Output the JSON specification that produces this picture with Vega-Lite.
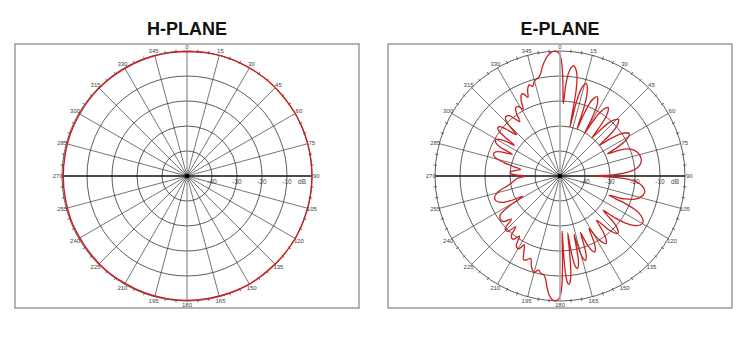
{
  "$schema": "https://vega.github.io/schema/vega-lite/v6.json",
  "background": "white",
  "padding": {"left": 14, "top": 19, "right": 0, "bottom": 0},
  "config": {
    "view": {"stroke": "#9a9a9a", "strokeWidth": 1.5},
    "font": "Liberation Sans",
    "title": {"fontSize": 18, "fontWeight": "bold", "font": "Liberation Sans", "color": "#111111", "offset": 5}
  },
  "datasets": {
    "rings": [{"db": -40}, {"db": -30}, {"db": -20}, {"db": -10}, {"db": 0}],
    "center": [{"db": -50}],
    "spokes": [{"angle": 0}, {"angle": 15}, {"angle": 30}, {"angle": 45}, {"angle": 60}, {"angle": 75}, {"angle": 90}, {"angle": 105}, {"angle": 120}, {"angle": 135}, {"angle": 150}, {"angle": 165}],
    "ticks": [{"angle": 5}, {"angle": 10}, {"angle": 20}, {"angle": 25}, {"angle": 35}, {"angle": 40}, {"angle": 50}, {"angle": 55}, {"angle": 65}, {"angle": 70}, {"angle": 80}, {"angle": 85}, {"angle": 95}, {"angle": 100}, {"angle": 110}, {"angle": 115}, {"angle": 125}, {"angle": 130}, {"angle": 140}, {"angle": 145}, {"angle": 155}, {"angle": 160}, {"angle": 170}, {"angle": 175}, {"angle": 185}, {"angle": 190}, {"angle": 200}, {"angle": 205}, {"angle": 215}, {"angle": 220}, {"angle": 230}, {"angle": 235}, {"angle": 245}, {"angle": 250}, {"angle": 260}, {"angle": 265}, {"angle": 275}, {"angle": 280}, {"angle": 290}, {"angle": 295}, {"angle": 305}, {"angle": 310}, {"angle": 320}, {"angle": 325}, {"angle": 335}, {"angle": 340}, {"angle": 350}, {"angle": 355}],
    "alabels": [{"angle": 0, "label": "0"}, {"angle": 15, "label": "15"}, {"angle": 30, "label": "30"}, {"angle": 45, "label": "45"}, {"angle": 60, "label": "60"}, {"angle": 75, "label": "75"}, {"angle": 90, "label": "90"}, {"angle": 105, "label": "105"}, {"angle": 120, "label": "120"}, {"angle": 135, "label": "135"}, {"angle": 150, "label": "150"}, {"angle": 165, "label": "165"}, {"angle": 180, "label": "180"}, {"angle": 195, "label": "195"}, {"angle": 210, "label": "210"}, {"angle": 225, "label": "225"}, {"angle": 240, "label": "240"}, {"angle": 255, "label": "255"}, {"angle": 270, "label": "270"}, {"angle": 285, "label": "285"}, {"angle": 300, "label": "300"}, {"angle": 315, "label": "315"}, {"angle": 330, "label": "330"}, {"angle": 345, "label": "345"}],
    "rlabels": [{"db": -40, "label": "-40"}, {"db": -30, "label": "-30"}, {"db": -20, "label": "-20"}, {"db": -10, "label": "-10"}, {"db": -4, "label": "dB"}],
    "h": [{"angle":0,"db":-0.2},{"angle":10,"db":-0.1},{"angle":20,"db":0},{"angle":30,"db":-0.1},{"angle":40,"db":0},{"angle":50,"db":-0.1},{"angle":60,"db":0},{"angle":70,"db":0},{"angle":80,"db":0},{"angle":90,"db":0},{"angle":100,"db":0},{"angle":110,"db":-0.1},{"angle":120,"db":0},{"angle":130,"db":-0.1},{"angle":140,"db":-0.2},{"angle":150,"db":-0.1},{"angle":160,"db":-0.2},{"angle":170,"db":-0.3},{"angle":180,"db":-0.2},{"angle":190,"db":-0.3},{"angle":200,"db":-0.3},{"angle":210,"db":-0.4},{"angle":220,"db":-0.3},{"angle":230,"db":-0.4},{"angle":240,"db":-0.5},{"angle":250,"db":-0.4},{"angle":260,"db":-0.5},{"angle":270,"db":-0.5},{"angle":280,"db":-0.5},{"angle":290,"db":-0.4},{"angle":300,"db":-0.4},{"angle":310,"db":-0.3},{"angle":320,"db":-0.3},{"angle":330,"db":-0.3},{"angle":340,"db":-0.2},{"angle":350,"db":-0.2},{"angle":360,"db":-0.2}],
    "e": [{"angle":0,"db":-1.5},{"angle":0.6,"db":-3.5},{"angle":1.2,"db":-7},{"angle":1.8,"db":-13},{"angle":2.6,"db":-21},
      {"angle":3.5,"db":-14.5},{"angle":4.6,"db":-9},{"angle":5.8,"db":-6.5},{"angle":7,"db":-5.5},{"angle":8.2,"db":-6.5},{"angle":9.5,"db":-9},{"angle":10.6,"db":-14.5},{"angle":11.5,"db":-30},
      {"angle":12.4,"db":-20.5},{"angle":13.4,"db":-15},{"angle":14.6,"db":-12.5},{"angle":15.75,"db":-11.5},{"angle":16.9,"db":-12.5},{"angle":18.1,"db":-15},{"angle":19.2,"db":-20.5},{"angle":20,"db":-30},
      {"angle":21,"db":-24},{"angle":22.2,"db":-18.5},{"angle":23.6,"db":-16},{"angle":25,"db":-15},{"angle":26.4,"db":-16},{"angle":27.8,"db":-18.5},{"angle":29,"db":-24},{"angle":30,"db":-30},
      {"angle":31,"db":-25},{"angle":32.2,"db":-20},{"angle":33.6,"db":-17.5},{"angle":35,"db":-16.5},{"angle":36.4,"db":-17.5},{"angle":37.8,"db":-20},{"angle":39,"db":-25},{"angle":40,"db":-30},
      {"angle":41.2,"db":-25.5},{"angle":42.6,"db":-21},{"angle":44.3,"db":-18.5},{"angle":46,"db":-17.5},{"angle":47.7,"db":-18.5},{"angle":49.4,"db":-21},{"angle":50.8,"db":-25.5},{"angle":52,"db":-30},
      {"angle":53.3,"db":-25.5},{"angle":54.9,"db":-21},{"angle":56.7,"db":-18.5},{"angle":58.5,"db":-17.5},{"angle":60.3,"db":-18.5},{"angle":62.1,"db":-21},{"angle":63.7,"db":-25},{"angle":65,"db":-29},
      {"angle":66.5,"db":-24},{"angle":68.5,"db":-20.5},{"angle":71,"db":-18.5},{"angle":74,"db":-17.3},{"angle":77.5,"db":-16.8},{"angle":81,"db":-17.3},{"angle":84,"db":-19},{"angle":86.5,"db":-22.5},{"angle":88.5,"db":-28},{"angle":90,"db":-36},
      {"angle":91.5,"db":-28},{"angle":93,"db":-22},{"angle":95.5,"db":-18},{"angle":98.5,"db":-16},{"angle":101,"db":-15.5},{"angle":104,"db":-16.3},{"angle":107,"db":-18.5},{"angle":109.5,"db":-22.5},{"angle":111.5,"db":-29},
      {"angle":112.8,"db":-22},{"angle":114.4,"db":-16.5},{"angle":116.5,"db":-13.5},{"angle":119,"db":-12},{"angle":121.5,"db":-12.5},{"angle":123.8,"db":-14.5},{"angle":125.8,"db":-18},{"angle":127.3,"db":-22.5},{"angle":128.5,"db":-28},
      {"angle":129.7,"db":-25.5},{"angle":131.1,"db":-21},{"angle":132.8,"db":-18.5},{"angle":134.5,"db":-17.4},{"angle":136.2,"db":-18.5},{"angle":137.9,"db":-21},{"angle":139.3,"db":-25.5},{"angle":140.5,"db":-27},
      {"angle":141.5,"db":-24.5},{"angle":142.8,"db":-20.5},{"angle":144.3,"db":-18.3},{"angle":145.8,"db":-17.3},{"angle":147.2,"db":-18.3},{"angle":148.7,"db":-20.5},{"angle":150,"db":-24},{"angle":151,"db":-26},
      {"angle":151.9,"db":-23.5},{"angle":153,"db":-19.5},{"angle":154.2,"db":-17.5},{"angle":155.5,"db":-16.6},{"angle":156.8,"db":-17.5},{"angle":158,"db":-19.5},{"angle":159.1,"db":-23},{"angle":160,"db":-26},
      {"angle":160.7,"db":-22},{"angle":161.4,"db":-17.5},{"angle":162.3,"db":-15.5},{"angle":163.25,"db":-14.7},{"angle":164.2,"db":-15.5},{"angle":165.1,"db":-17.5},{"angle":165.8,"db":-21.5},{"angle":166.5,"db":-26},
      {"angle":167.1,"db":-20},{"angle":167.8,"db":-15},{"angle":168.6,"db":-13},{"angle":169.4,"db":-12.3},{"angle":170.2,"db":-13},{"angle":171,"db":-15.5},{"angle":171.7,"db":-20.5},{"angle":172.3,"db":-27},
      {"angle":172.9,"db":-18},{"angle":173.6,"db":-11},{"angle":174.4,"db":-7.8},{"angle":175.2,"db":-6.5},{"angle":176,"db":-7.2},{"angle":176.7,"db":-10.5},{"angle":177.3,"db":-18},{"angle":177.8,"db":-28},
      {"angle":178.3,"db":-16},{"angle":178.9,"db":-7},{"angle":179.6,"db":-3},{"angle":180.5,"db":-1},{"angle":181.5,"db":-0.2},{"angle":182.5,"db":0},{"angle":183.8,"db":-0.6},{"angle":185.2,"db":-2.2},{"angle":186.6,"db":-5},{"angle":188,"db":-8.5},
      {"angle":189.5,"db":-10},{"angle":191,"db":-10.2},{"angle":193,"db":-11.5},{"angle":195,"db":-10},{"angle":197.5,"db":-12},{"angle":199.5,"db":-15},{"angle":201.5,"db":-14},{"angle":203.5,"db":-13.5},{"angle":205.5,"db":-16.5},{"angle":207.5,"db":-19},{"angle":209.5,"db":-16.5},{"angle":212,"db":-17},{"angle":214,"db":-21},{"angle":216.5,"db":-18.5},{"angle":219,"db":-19},{"angle":221,"db":-23},{"angle":223.5,"db":-19.5},{"angle":226,"db":-19.5},{"angle":228.5,"db":-24},{"angle":231,"db":-21},{"angle":234,"db":-20.5},{"angle":237,"db":-21.5},{"angle":239.5,"db":-27},{"angle":241.5,"db":-33},{"angle":243.5,"db":-28},{"angle":246,"db":-24},{"angle":249,"db":-22.5},{"angle":252,"db":-22.5},{"angle":255,"db":-24},{"angle":258,"db":-27},{"angle":261,"db":-30},{"angle":264,"db":-31.5},{"angle":267,"db":-33},{"angle":269,"db":-35.5},{"angle":270,"db":-36},{"angle":271.2,"db":-33},{"angle":272.5,"db":-30.5},{"angle":274.5,"db":-30},{"angle":277,"db":-32},{"angle":279.5,"db":-34},{"angle":281.5,"db":-31},{"angle":283.5,"db":-27},{"angle":285.5,"db":-23.5},{"angle":288,"db":-22},{"angle":290.5,"db":-22.5},{"angle":292.5,"db":-25},{"angle":294.5,"db":-29},
      {"angle":296,"db":-23},{"angle":297.5,"db":-21},{"angle":299,"db":-20.5},{"angle":300.5,"db":-21},{"angle":302.5,"db":-24},{"angle":304,"db":-28},{"angle":305.2,"db":-23},{"angle":306.5,"db":-19.5},{"angle":308,"db":-18.5},{"angle":309.5,"db":-19},{"angle":311,"db":-21.5},{"angle":313.5,"db":-26},{"angle":314.7,"db":-21.5},{"angle":316.2,"db":-18.5},{"angle":318,"db":-17.8},{"angle":320,"db":-18.5},{"angle":321.8,"db":-21},{"angle":323.5,"db":-23},{"angle":325.2,"db":-19.5},{"angle":327,"db":-17.5},{"angle":329,"db":-17.5},{"angle":331,"db":-19.5},{"angle":332.8,"db":-16},{"angle":334.5,"db":-14},{"angle":336,"db":-14},{"angle":337.8,"db":-16},{"angle":339.5,"db":-13},{"angle":341.3,"db":-11.5},{"angle":343,"db":-12.5},{"angle":344.8,"db":-10.8},{"angle":346.5,"db":-10},{"angle":348,"db":-9.5},{"angle":349.5,"db":-8},{"angle":351,"db":-5.5},{"angle":352.5,"db":-3.5},{"angle":354,"db":-1.8},{"angle":355.5,"db":-0.7},{"angle":357,"db":-0.1},{"angle":358.3,"db":-0.1},{"angle":359.3,"db":-0.7},{"angle":360,"db":-1.5}]
  },
  "spacing": 27,
  "hconcat": [
    {
      "title": {"text": "H-PLANE"},
      "width": 344,
      "height": 264,
      "layer": [
        {
          "data": {"name": "rings"},
          "transform": [{"calculate": "datum.db + 50", "as": "r"}, {"calculate": "0", "as": "x"}, {"calculate": "0", "as": "y"}],
          "mark": {"type": "point", "shape": "circle", "filled": false, "stroke": "#333333", "strokeWidth": 0.8, "opacity": 1},
          "encoding": {
            "x": {"field": "x", "type": "quantitative", "scale": {"domain": [-68.8, 68.8], "nice": false, "zero": false}, "axis": null},
            "y": {"field": "y", "type": "quantitative", "scale": {"domain": [-52.8, 52.8], "nice": false, "zero": false}, "axis": null},
            "size": {"field": "r", "type": "quantitative", "scale": {"type": "pow", "exponent": 2, "domain": [0, 50], "range": [0, 62500]}, "legend": null}
          }
        },
        {
          "data": {"name": "spokes"},
          "transform": [{"filter": "datum.angle != 0 && datum.angle != 90"}, {"calculate": "50*sin(datum.angle*PI/180)", "as": "x"}, {"calculate": "50*cos(datum.angle*PI/180)", "as": "y"}, {"calculate": "-datum.x", "as": "x2"}, {"calculate": "-datum.y", "as": "y2"}],
          "mark": {"type": "rule", "stroke": "#3a3a3a", "strokeWidth": 0.7},
          "encoding": {"x": {"field": "x", "type": "quantitative"}, "y": {"field": "y", "type": "quantitative"}, "x2": {"field": "x2"}, "y2": {"field": "y2"}}
        },
        {
          "data": {"name": "spokes"},
          "transform": [{"filter": "datum.angle == 0"}, {"calculate": "50*sin(datum.angle*PI/180)", "as": "x"}, {"calculate": "50*cos(datum.angle*PI/180)", "as": "y"}, {"calculate": "-datum.x", "as": "x2"}, {"calculate": "-datum.y", "as": "y2"}],
          "mark": {"type": "rule", "stroke": "#777777", "strokeWidth": 1},
          "encoding": {"x": {"field": "x", "type": "quantitative"}, "y": {"field": "y", "type": "quantitative"}, "x2": {"field": "x2"}, "y2": {"field": "y2"}}
        },
        {
          "data": {"name": "spokes"},
          "transform": [{"filter": "datum.angle == 90"}, {"calculate": "50*sin(datum.angle*PI/180)", "as": "x"}, {"calculate": "50*cos(datum.angle*PI/180)", "as": "y"}, {"calculate": "-datum.x", "as": "x2"}, {"calculate": "-datum.y", "as": "y2"}],
          "mark": {"type": "rule", "stroke": "#111111", "strokeWidth": 1.3},
          "encoding": {"x": {"field": "x", "type": "quantitative"}, "y": {"field": "y", "type": "quantitative"}, "x2": {"field": "x2"}, "y2": {"field": "y2"}}
        },
        {
          "data": {"name": "ticks"},
          "transform": [{"calculate": "49.4*sin(datum.angle*PI/180)", "as": "x"}, {"calculate": "49.4*cos(datum.angle*PI/180)", "as": "y"}, {"calculate": "50.8*sin(datum.angle*PI/180)", "as": "x2"}, {"calculate": "50.8*cos(datum.angle*PI/180)", "as": "y2"}],
          "mark": {"type": "rule", "stroke": "#333333", "strokeWidth": 0.7},
          "encoding": {"x": {"field": "x", "type": "quantitative"}, "y": {"field": "y", "type": "quantitative"}, "x2": {"field": "x2"}, "y2": {"field": "y2"}}
        },
        {
          "data": {"name": "center"},
          "transform": [{"calculate": "0", "as": "x"}, {"calculate": "0", "as": "y"}],
          "mark": {"type": "point", "shape": "circle", "filled": true, "color": "#000000", "size": 22, "opacity": 1},
          "encoding": {"x": {"field": "x", "type": "quantitative"}, "y": {"field": "y", "type": "quantitative"}}
        },
        {
          "data": {"name": "alabels"},
          "transform": [{"calculate": "51.7*sin(datum.angle*PI/180)", "as": "x"}, {"calculate": "51.7*cos(datum.angle*PI/180)", "as": "y"}],
          "mark": {"type": "text", "fontSize": 6, "fill": "#444444", "align": "center", "baseline": "middle", "font": "Liberation Sans"},
          "encoding": {"x": {"field": "x", "type": "quantitative"}, "y": {"field": "y", "type": "quantitative"}, "text": {"field": "label"}}
        },
        {
          "data": {"name": "rlabels"},
          "transform": [{"calculate": "datum.db + 50", "as": "x"}, {"calculate": "0", "as": "y"}],
          "mark": {"type": "text", "fontSize": 6.5, "fill": "#444444", "align": "center", "baseline": "middle", "dy": 5.5, "font": "Liberation Sans"},
          "encoding": {"x": {"field": "x", "type": "quantitative"}, "y": {"field": "y", "type": "quantitative"}, "text": {"field": "label"}}
        },
        {
          "data": {"name": "h"},
          "transform": [{"calculate": "datum.db + 50", "as": "r"}, {"calculate": "datum.r*sin(datum.angle*PI/180)", "as": "x"}, {"calculate": "datum.r*cos(datum.angle*PI/180)", "as": "y"}],
          "mark": {"type": "line", "stroke": "#cc1f1f", "strokeWidth": 1.4, "interpolate": "catmull-rom"},
          "encoding": {"x": {"field": "x", "type": "quantitative"}, "y": {"field": "y", "type": "quantitative"}, "order": {"field": "angle", "type": "quantitative"}}
        }
      ]
    },
    {
      "title": {"text": "E-PLANE"},
      "width": 344,
      "height": 264,
      "layer": [
        {
          "data": {"name": "rings"},
          "transform": [{"calculate": "datum.db + 50", "as": "r"}, {"calculate": "0", "as": "x"}, {"calculate": "0", "as": "y"}],
          "mark": {"type": "point", "shape": "circle", "filled": false, "stroke": "#333333", "strokeWidth": 0.8, "opacity": 1},
          "encoding": {
            "x": {"field": "x", "type": "quantitative", "scale": {"domain": [-68.8, 68.8], "nice": false, "zero": false}, "axis": null},
            "y": {"field": "y", "type": "quantitative", "scale": {"domain": [-52.8, 52.8], "nice": false, "zero": false}, "axis": null},
            "size": {"field": "r", "type": "quantitative", "scale": {"type": "pow", "exponent": 2, "domain": [0, 50], "range": [0, 62500]}, "legend": null}
          }
        },
        {
          "data": {"name": "spokes"},
          "transform": [{"filter": "datum.angle != 0 && datum.angle != 90"}, {"calculate": "50*sin(datum.angle*PI/180)", "as": "x"}, {"calculate": "50*cos(datum.angle*PI/180)", "as": "y"}, {"calculate": "-datum.x", "as": "x2"}, {"calculate": "-datum.y", "as": "y2"}],
          "mark": {"type": "rule", "stroke": "#3a3a3a", "strokeWidth": 0.7},
          "encoding": {"x": {"field": "x", "type": "quantitative"}, "y": {"field": "y", "type": "quantitative"}, "x2": {"field": "x2"}, "y2": {"field": "y2"}}
        },
        {
          "data": {"name": "spokes"},
          "transform": [{"filter": "datum.angle == 90"}, {"calculate": "50*sin(datum.angle*PI/180)", "as": "x"}, {"calculate": "50*cos(datum.angle*PI/180)", "as": "y"}, {"calculate": "-datum.x", "as": "x2"}, {"calculate": "-datum.y", "as": "y2"}],
          "mark": {"type": "rule", "stroke": "#111111", "strokeWidth": 1.3},
          "encoding": {"x": {"field": "x", "type": "quantitative"}, "y": {"field": "y", "type": "quantitative"}, "x2": {"field": "x2"}, "y2": {"field": "y2"}}
        },
        {
          "data": {"name": "ticks"},
          "transform": [{"calculate": "49.4*sin(datum.angle*PI/180)", "as": "x"}, {"calculate": "49.4*cos(datum.angle*PI/180)", "as": "y"}, {"calculate": "50.8*sin(datum.angle*PI/180)", "as": "x2"}, {"calculate": "50.8*cos(datum.angle*PI/180)", "as": "y2"}],
          "mark": {"type": "rule", "stroke": "#333333", "strokeWidth": 0.7},
          "encoding": {"x": {"field": "x", "type": "quantitative"}, "y": {"field": "y", "type": "quantitative"}, "x2": {"field": "x2"}, "y2": {"field": "y2"}}
        },
        {
          "data": {"name": "alabels"},
          "transform": [{"calculate": "51.7*sin(datum.angle*PI/180)", "as": "x"}, {"calculate": "51.7*cos(datum.angle*PI/180)", "as": "y"}],
          "mark": {"type": "text", "fontSize": 6, "fill": "#444444", "align": "center", "baseline": "middle", "font": "Liberation Sans"},
          "encoding": {"x": {"field": "x", "type": "quantitative"}, "y": {"field": "y", "type": "quantitative"}, "text": {"field": "label"}}
        },
        {
          "data": {"name": "rlabels"},
          "transform": [{"calculate": "datum.db + 50", "as": "x"}, {"calculate": "0", "as": "y"}],
          "mark": {"type": "text", "fontSize": 6.5, "fill": "#444444", "align": "center", "baseline": "middle", "dy": 5.5, "font": "Liberation Sans"},
          "encoding": {"x": {"field": "x", "type": "quantitative"}, "y": {"field": "y", "type": "quantitative"}, "text": {"field": "label"}}
        },
        {
          "data": {"name": "e"},
          "transform": [{"calculate": "datum.db + 50", "as": "r"}, {"calculate": "datum.r*sin(datum.angle*PI/180)", "as": "x"}, {"calculate": "datum.r*cos(datum.angle*PI/180)", "as": "y"}],
          "mark": {"type": "line", "stroke": "#cc1f1f", "strokeWidth": 1.3, "interpolate": "catmull-rom"},
          "encoding": {"x": {"field": "x", "type": "quantitative"}, "y": {"field": "y", "type": "quantitative"}, "order": {"field": "angle", "type": "quantitative"}}
        },
        {
          "data": {"name": "spokes"},
          "transform": [{"filter": "datum.angle == 0"}, {"calculate": "50*sin(datum.angle*PI/180)", "as": "x"}, {"calculate": "50*cos(datum.angle*PI/180)", "as": "y"}, {"calculate": "-datum.x", "as": "x2"}, {"calculate": "-datum.y", "as": "y2"}],
          "mark": {"type": "rule", "stroke": "#a8a8a8", "strokeWidth": 1.6},
          "encoding": {"x": {"field": "x", "type": "quantitative"}, "y": {"field": "y", "type": "quantitative"}, "x2": {"field": "x2"}, "y2": {"field": "y2"}}
        },
        {
          "data": {"name": "center"},
          "transform": [{"calculate": "0", "as": "x"}, {"calculate": "0", "as": "y"}],
          "mark": {"type": "point", "shape": "circle", "filled": true, "color": "#000000", "size": 22, "opacity": 1},
          "encoding": {"x": {"field": "x", "type": "quantitative"}, "y": {"field": "y", "type": "quantitative"}}
        }
      ]
    }
  ]
}
